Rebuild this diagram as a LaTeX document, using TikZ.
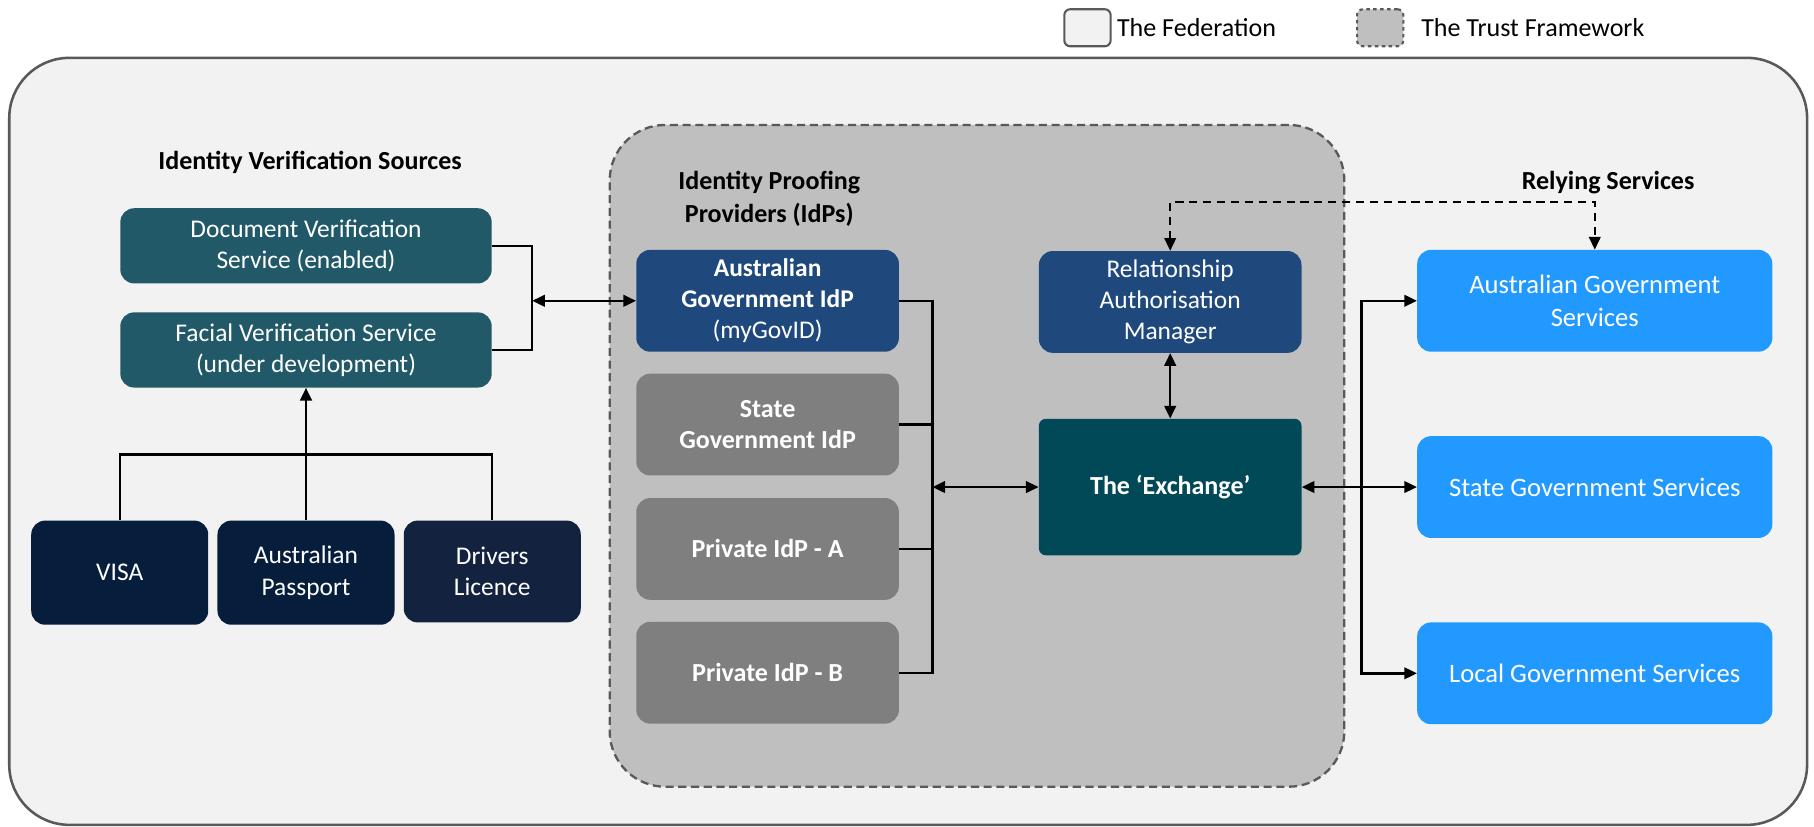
\documentclass[tikz,border=0pt]{standalone}
\usepackage{fontspec}
\setmainfont{Carlito}
\usetikzlibrary{arrows.meta}
\definecolor{fedbg}{HTML}{F2F2F2}
\definecolor{fedline}{HTML}{595959}
\definecolor{trustbg}{HTML}{BFBFBF}
\definecolor{dvscol}{HTML}{215968}
\definecolor{navyA}{HTML}{061E3C}
\definecolor{navyB}{HTML}{13223F}
\definecolor{idpblue}{HTML}{1F497D}
\definecolor{idpgray}{HTML}{7F7F7F}
\definecolor{exchcol}{HTML}{024957}
\definecolor{relyblue}{HTML}{2299FF}
\tikzset{
  basebox/.style={rectangle, rounded corners=12pt, text=white, align=center,
    font=\fontsize{22}{27}\selectfont, inner sep=0pt},
  boldbox/.style={basebox, font=\fontsize{22.5}{27}\selectfont\bfseries},
  relybox/.style={basebox, fill=relyblue, minimum width=307pt, minimum height=88pt, font=\fontsize{23}{28}\selectfont},
  titletext/.style={align=center, font=\fontsize{22.5}{28}\selectfont\bfseries},
  legtext/.style={anchor=west, font=\fontsize{22.5}{26}\selectfont},
  conn/.style={line width=2.1pt, black},
  tip/.style={-{Triangle[length=11pt,width=10pt]}},
  tips/.style={{Triangle[length=11pt,width=10pt]}-{Triangle[length=11pt,width=10pt]}},
}
\begin{document}
\begin{tikzpicture}[x=1pt,y=-1pt]
\useasboundingbox (0,0) rectangle (1568,714);
% legend
\node[draw=fedline, fill=fedbg, line width=1.8pt, rounded corners=5pt, minimum width=40pt, minimum height=32pt, inner sep=0pt] (legfed) at (940,24) {};
\node[legtext] (legfedt) at (962,24) {The Federation};
\node[draw=fedline, fill=trustbg, dashed, line width=1.8pt, rounded corners=5pt, minimum width=40pt, minimum height=32pt, inner sep=0pt] (legtr) at (1193,24) {};
\node[legtext] (legtrt) at (1225,24) {The Trust Framework};
% federation
\node[draw=fedline, fill=fedbg, line width=2.2pt, rounded corners=52pt, minimum width=1554pt, minimum height=663pt, inner sep=0pt] (fed) at (785,381.5) {};
% trust framework
\node[draw=fedline, fill=trustbg, dashed, dash pattern=on 7pt off 4pt, line width=2pt, rounded corners=48pt, minimum width=635pt, minimum height=572pt, inner sep=0pt] (trust) at (844.5,394) {};
% titles
\node[titletext] (t1) at (268,140) {Identity Verification Sources};
\node[titletext] (t2) at (665,172) {Identity Proofing\\Providers (IdPs)};
\node[titletext] (t3) at (1390,158) {Relying Services};
% left boxes
\node[basebox, fill=dvscol, minimum width=321pt, minimum height=65pt] (dvs) at (264.5,212.5) {Document Verification\\Service (enabled)};
\node[basebox, fill=dvscol, minimum width=321pt, minimum height=65pt] (fvs) at (264.5,302.5) {Facial Verification Service\\(under development)};
\node[basebox, fill=navyA, minimum width=153pt, minimum height=90pt] (visa) at (103.5,495) {VISA};
\node[basebox, fill=navyA, minimum width=153pt, minimum height=90pt] (pass) at (264.5,495) {Australian\\Passport};
\node[basebox, fill=navyB, minimum width=153pt, minimum height=88pt] (drv) at (425.5,494) {Drivers\\Licence};
% IdPs
\node[basebox, fill=idpblue, minimum width=227pt, minimum height=88pt] (agidp) at (663.5,260) {\textbf{Australian}\\\textbf{Government IdP}\\(myGovID)};
\node[boldbox, fill=idpgray, minimum width=227pt, minimum height=88pt] (state) at (663.5,367) {State\\Government IdP};
\node[boldbox, fill=idpgray, minimum width=227pt, minimum height=88pt] (priva) at (663.5,474.5) {Private IdP - A};
\node[boldbox, fill=idpgray, minimum width=227pt, minimum height=88pt] (privb) at (663.5,581.5) {Private IdP - B};
% center
\node[basebox, fill=idpblue, minimum width=227pt, minimum height=88pt] (ram) at (1011.5,261) {Relationship\\Authorisation\\Manager};
\node[boldbox, fill=exchcol, minimum width=227pt, minimum height=118pt, rounded corners=6pt] (exch) at (1011.5,421) {The ‘Exchange’};
% relying
\node[relybox] (ags) at (1378.5,260) {Australian Government\\Services};
\node[relybox] (sgs) at (1378.5,421) {State Government Services};
\node[relybox] (lgs) at (1378.5,582) {Local Government Services};
% coordinates
\coordinate (b1) at (460,260);
\coordinate (b2) at (806,421);
\coordinate (b3) at (1177,421);
% left connectors
\draw[conn] (dvs.east) -- (dvs.east -| b1) -- (fvs.east -| b1) -- (fvs.east);
\draw[conn, tips] (b1) -- (agidp.west);
\draw[conn] (visa.north) -- ++(0,-57) -| (drv.north);
\draw[conn, tip] (pass.north) -- (fvs.south);
% idp bracket
\draw[conn] (agidp.east) -- (agidp.east -| b2) -- (privb.east -| b2) -- (privb.east);
\draw[conn] (state.east) -- (state.east -| b2);
\draw[conn] (priva.east) -- (priva.east -| b2);
\draw[conn, tips] (b2) -- (exch.west);
\draw[conn, tips] (ram.south) -- (exch.north);
\draw[conn, tips, dashed, dash pattern=on 7pt off 5pt, line width=1.8pt] (ram.north) -- ++(0,-42) -| (ags.north);
% right
\draw[conn, tips] (exch.east) -- (sgs.west);
\draw[conn, tip] (b3) |- (ags.west);
\draw[conn, tip] (b3) |- (lgs.west);
\end{tikzpicture}
\end{document}
